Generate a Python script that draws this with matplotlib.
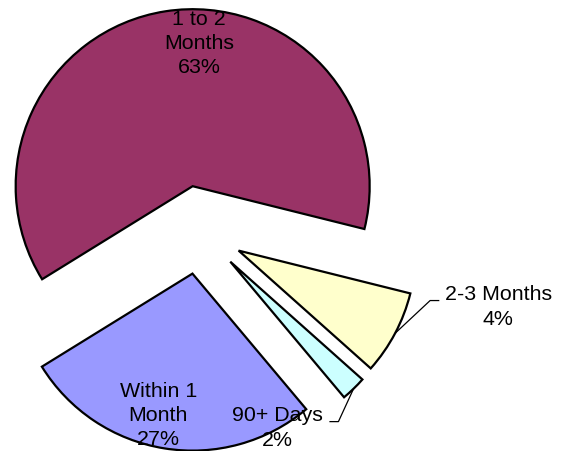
import matplotlib
matplotlib.use("Agg")
import matplotlib.pyplot as plt
import numpy as np

# slice data, clockwise from the "Within 1 Month" slice
categories = ["Within 1\nMonth", "1 to 2\nMonths", "2-3 Months", "90+ Days"]
shares = [27.3, 62.7, 7.7, 2.3]
pct_labels = ["27%", "63%", "4%", "2%"]
colors = ["#9999FF", "#993366", "#FFFFCC", "#CCFFFF"]

plt.rcParams['font.family'] = ['Liberation Sans', 'DejaVu Sans']

fig = plt.figure(figsize=(5.68, 4.51), dpi=100)
ax = fig.add_axes([0, 0, 1, 1])

wedges, _ = ax.pie(shares, colors=colors, explode=[0.25] * 4,
                   startangle=-50.0, counterclock=False, radius=1.0,
                   wedgeprops=dict(edgecolor='black', linewidth=1.6))

ax.set_xlim(-1.127, 2.082)
ax.set_ylim(-1.249, 1.299)
ax.set_aspect('auto')
ax.axis('off')

fs = 15.4
ls = 1.35

# labels inside / near the slices: (x, y) of the text block centre
label_pos = [(-0.232, -1.049), (-0.002, 1.054), (1.687, -0.435), (0.441, -1.119)]
for i in range(len(categories)):
    x, y = label_pos[i]
    ax.text(x, y, categories[i] + "\n" + pct_labels[i], ha='center', va='center',
            multialignment='center', fontsize=fs, linespacing=ls, color='black')

# leader lines for the two small slices
def leader(w, elbow, end):
    mid = np.deg2rad((w.theta1 + w.theta2) / 2)
    cx, cy = w.center
    start = (cx + w.r * np.cos(mid), cy + w.r * np.sin(mid))
    ax.plot([start[0], elbow[0], end[0]], [start[1], elbow[1], end[1]],
            color='black', linewidth=0.9, solid_capstyle='butt')

leader(wedges[2], (1.303, -0.399), (1.355, -0.399))
leader(wedges[3], (0.785, -1.083), (0.734, -1.083))

fig.savefig("out.png", dpi=100)
